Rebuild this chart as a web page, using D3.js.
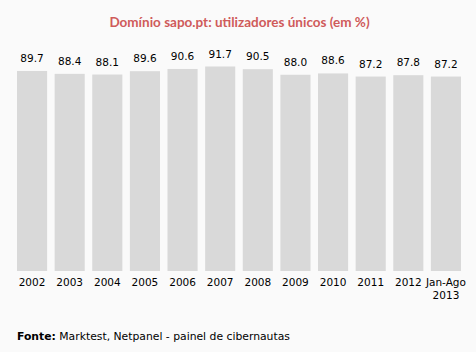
<!DOCTYPE html>
<html>
<head>
<meta charset="utf-8">
<script src="https://cdn.jsdelivr.net/npm/d3@7"></script>
<style>
  body { margin: 0; background: #fafafa; }
  svg { display: block; }
</style>
</head>
<body>
<svg id="chart" width="476" height="352"></svg>
<script>
// dados
var years = ["2002", "2003", "2004", "2005", "2006", "2007", "2008", "2009", "2010", "2011", "2012", "Jan-Ago 2013"]
var values = [89.7, 88.4, 88.1, 89.6, 90.6, 91.7, 90.5, 88.0, 88.6, 87.2, 87.8, 87.2]
var title = "Domínio sapo.pt: utilizadores únicos (em %)"

var W = 476, H = 352
var svg = d3.select("#chart")

svg.append("rect").attr("width", W).attr("height", H).attr("fill", "#fafafa")

var x = d3.scaleBand()
    .domain(years)
    .range([17, 461])
    .paddingInner(0.2)
    .paddingOuter(0)

var y = d3.scaleLinear()
    .domain([0, 100])
    .range([271, 48])

svg.append("text")
    .attr("x", 239.5)
    .attr("y", 27)
    .attr("text-anchor", "middle")
    .attr("font-family", "Lato, sans-serif")
    .attr("font-size", "13.5px")
    .attr("font-weight", "700")
    .attr("fill", "#cf5b5a")
    .text(title)

svg.selectAll(".bar")
    .data(values)
    .enter()
    .append("rect")
    .attr("class", "bar")
    .attr("x", (d, i) => x(years[i]))
    .attr("y", d => y(d))
    .attr("width", x.bandwidth())
    .attr("height", d => y(0) - y(d))
    .attr("fill", "#d9d9d9")

svg.selectAll(".val")
    .data(values)
    .enter()
    .append("text")
    .attr("class", "val")
    .attr("x", (d, i) => x(years[i]) + x.bandwidth() / 2)
    .attr("y", d => y(d) - 9)
    .attr("text-anchor", "middle")
    .attr("font-family", "DejaVu Sans, sans-serif")
    .attr("font-size", "10.5px")
    .attr("fill", "#000")
    .text(d => d.toFixed(1))

// eixo x sem linha
var xAxis = d3.axisBottom(x).tickSize(0).tickPadding(8)
var gx = svg.append("g")
    .attr("transform", "translate(0," + y(0) + ")")
    .call(xAxis)
gx.select(".domain").remove()
gx.selectAll("text")
    .attr("font-family", "DejaVu Sans, sans-serif")
    .attr("font-size", "10.5px")
    .attr("fill", "#000")
    .each(function (d) {
        var parts = d.split(" ")
        if (parts.length > 1) {
            var t = d3.select(this).text(null)
            parts.forEach((p, k) => {
                t.append("tspan").attr("x", 0).attr("dy", k === 0 ? "0.71em" : "1.2em").text(p)
            })
            t.attr("dy", null)
        }
    })

var foot = svg.append("text")
    .attr("x", 17)
    .attr("y", 340)
    .attr("font-family", "DejaVu Sans, sans-serif")
    .attr("font-size", "10.8px")
    .attr("fill", "#000")
foot.append("tspan").attr("font-weight", "bold").text("Fonte:")
foot.append("tspan").text(" Marktest, Netpanel - painel de cibernautas")
</script>
</body>
</html>
